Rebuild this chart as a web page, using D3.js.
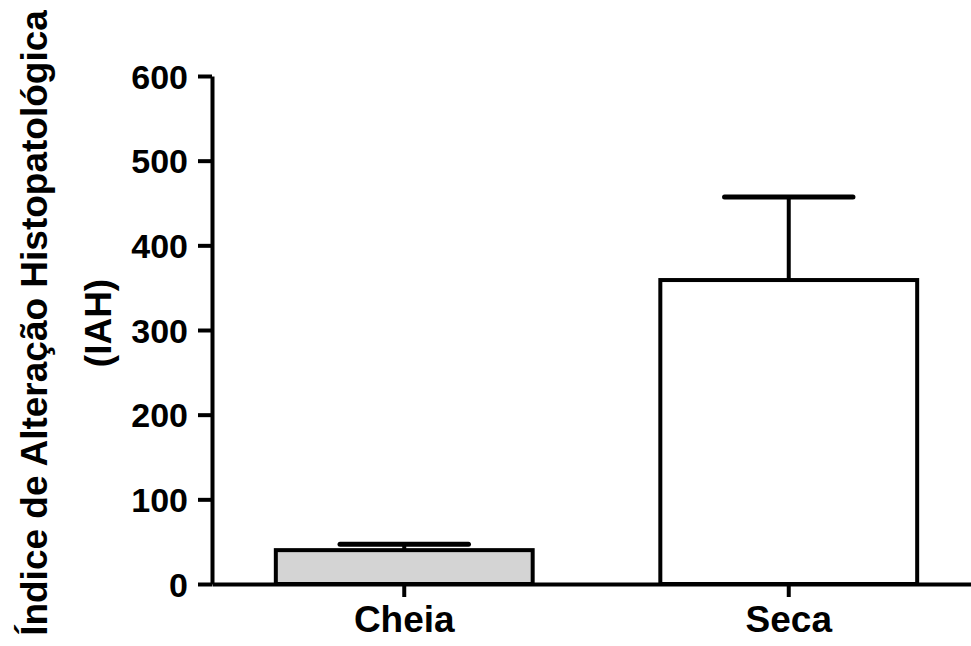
<!DOCTYPE html>
<html>
<head>
<meta charset="utf-8">
<script src="https://cdn.jsdelivr.net/npm/d3@7"></script>
<style>
    body { margin: 0; background: #fff; }
    svg text { font-family: "Liberation Sans", Arial, sans-serif; font-weight: bold; }
</style>
</head>
<body>
<div id="graph1"></div>
<script>
// Data
const groups = ["Cheia", "Seca"];
const means = [40, 359];
const sems = [7, 98];
const fills = ["#d4d4d4", "#ffffff"];
const yTicks = [0, 100, 200, 300, 400, 500, 600];

const chartWidth = 971, chartHeight = 646;
const plotLeft = 212, plotBottom = 584, plotTop = 76;

let svg = d3.select("#graph1")
    .append("svg")
    .attr("width", chartWidth)
    .attr("height", chartHeight);

let y = d3.scaleLinear()
    .domain([0, 600])
    .range([plotBottom, plotTop]);

let x = d3.scaleBand()
    .domain(groups)
    .range([plotLeft, plotLeft + 769])
    .paddingInner(0.332)
    .paddingOuter(0.166);

let data = groups.map(function (g, i) {
    return {group: g, mean: means[i], sem: sems[i], fill: fills[i]};
});

// Bars
svg.selectAll("rect.bar")
    .data(data)
    .enter()
    .append("rect")
    .attr("class", "bar")
    .attr("x", d => x(d.group))
    .attr("y", d => y(d.mean))
    .attr("width", x.bandwidth())
    .attr("height", d => y(0) - y(d.mean))
    .style("fill", d => d.fill)
    .style("stroke", "#000")
    .style("stroke-width", 4);

// Error bars (upper only)
let cx = d => x(d.group) + x.bandwidth() / 2;
svg.selectAll("line.err")
    .data(data)
    .enter()
    .append("line")
    .attr("x1", cx)
    .attr("x2", cx)
    .attr("y1", d => y(d.mean))
    .attr("y2", d => y(d.mean + d.sem))
    .style("stroke", "#000")
    .style("stroke-width", 4);

svg.selectAll("line.cap")
    .data(data)
    .enter()
    .append("line")
    .attr("x1", d => cx(d) - x.bandwidth() / 4)
    .attr("x2", d => cx(d) + x.bandwidth() / 4)
    .attr("y1", d => y(d.mean + d.sem))
    .attr("y2", d => y(d.mean + d.sem))
    .style("stroke", "#000")
    .style("stroke-width", 5)
    .style("stroke-linecap", "round");

// Y axis
let yAxis = svg.append("g")
    .attr("transform", `translate(${plotLeft}, 0)`)
    .call(d3.axisLeft(y).tickValues(yTicks).tickSize(14).tickPadding(10).tickSizeOuter(0));
yAxis.select(".domain").style("stroke", "#000").style("stroke-width", 4);
yAxis.selectAll(".tick line").style("stroke", "#000").style("stroke-width", 4);
yAxis.selectAll(".tick text")
    .style("font-size", "34px")
    .attr("dy", "0.36em")
    .style("fill", "#000");

// X axis
let xAxis = svg.append("g")
    .attr("transform", `translate(0, ${plotBottom})`)
    .call(d3.axisBottom(x).tickSize(13).tickPadding(8).tickSizeOuter(0));
xAxis.select(".domain").style("stroke", "#000").style("stroke-width", 4);
xAxis.selectAll(".tick line").style("stroke", "#000").style("stroke-width", 4);
xAxis.selectAll(".tick text")
    .style("font-size", "37px")
    .attr("dy", "0.72em")
    .style("fill", "#000");

// Y axis title
let title = svg.append("text")
    .attr("transform", `translate(47, 323) rotate(-90)`)
    .style("text-anchor", "middle")
    .style("font-size", "37px")
    .style("fill", "#000");
title.append("tspan")
    .attr("x", 0)
    .attr("y", 0)
    .text("Índice de Alteração Histopatológica");
title.append("tspan")
    .attr("x", 0)
    .attr("y", 64)
    .text("(IAH)");
</script>
</body>
</html>
